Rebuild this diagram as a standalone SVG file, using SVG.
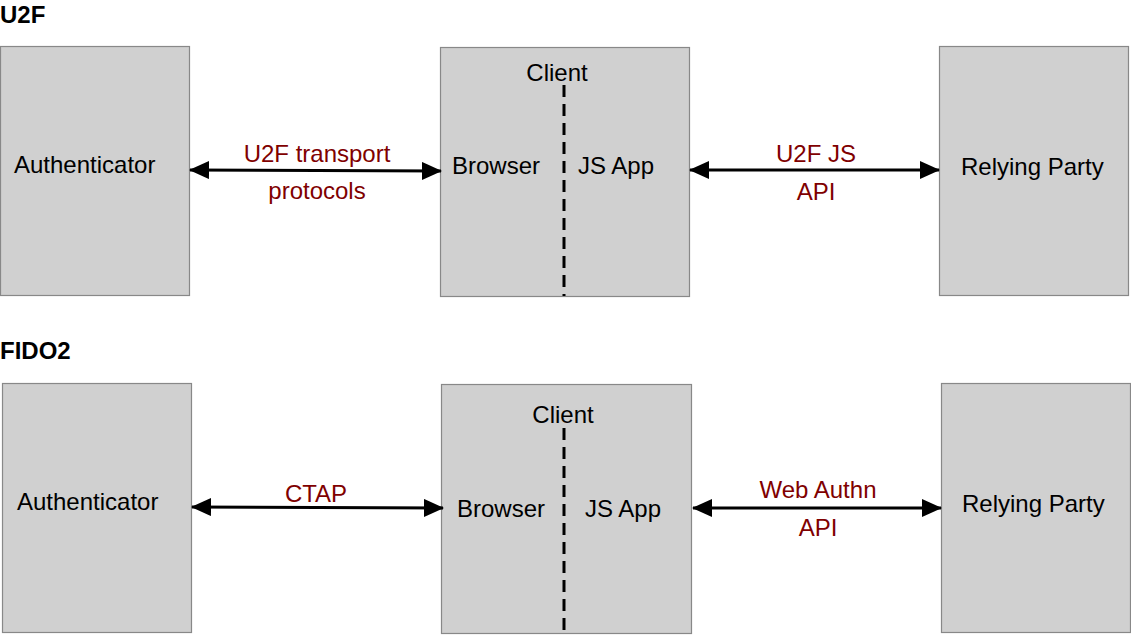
<svg xmlns="http://www.w3.org/2000/svg" width="1131" height="635" viewBox="0 0 1131 635">
<defs>
<style>
.box{fill:#d0d0d0;stroke:#888888;stroke-width:1.2}
.t{font-family:"Liberation Sans",Arial,sans-serif;font-size:24px;fill:#000}
.title{font-family:"Liberation Sans",Arial,sans-serif;font-size:24px;font-weight:bold;fill:#000}
.lbl{font-family:"Liberation Sans",Arial,sans-serif;font-size:24px;fill:#7f0000;text-anchor:middle}
.conn{stroke:#000;stroke-width:2.8;fill:none;marker-start:url(#ah);marker-end:url(#ah)}
.dash{stroke:#000;stroke-width:3;stroke-dasharray:12 7;fill:none}
</style>
<marker id="ah" viewBox="0 0 20 18" refX="19" refY="9" markerWidth="20" markerHeight="18" markerUnits="userSpaceOnUse" orient="auto-start-reverse">
<path d="M0,0 L20,9 L0,18 Z" fill="#000"/>
</marker>
</defs>
<text class="title" x="0" y="23">U2F</text>
<text class="title" x="0" y="359">FIDO2</text>

<g id="u2f-authenticator">
<rect class="box" x="0.5" y="46.5" width="189" height="249"/>
<text class="t" x="14" y="173">Authenticator</text>
</g>
<g id="u2f-client">
<rect class="box" x="440.5" y="47.5" width="249" height="249"/>
<text class="t" x="557" y="81" text-anchor="middle">Client</text>
<line class="dash" x1="564" y1="85" x2="564" y2="296"/>
<text class="t" x="452" y="174">Browser</text>
<text class="t" x="578" y="174">JS App</text>
</g>
<g id="u2f-rp">
<rect class="box" x="939.5" y="46.5" width="189" height="249"/>
<text class="t" x="961" y="175">Relying Party</text>
</g>

<g id="fido2-authenticator">
<rect class="box" x="2.5" y="383.5" width="189" height="249"/>
<text class="t" x="17" y="510">Authenticator</text>
</g>
<g id="fido2-client">
<rect class="box" x="441.5" y="384.5" width="250" height="249"/>
<text class="t" x="563" y="423" text-anchor="middle">Client</text>
<line class="dash" x1="564" y1="428" x2="564" y2="634"/>
<text class="t" x="457" y="517">Browser</text>
<text class="t" x="585" y="517">JS App</text>
</g>
<g id="fido2-rp">
<rect class="box" x="941.5" y="383.5" width="189" height="249"/>
<text class="t" x="962" y="512">Relying Party</text>
</g>

<g id="connectors">
<path class="conn" d="M190,170 L441,171"/>
<path class="conn" d="M690,170 L939,170"/>
<path class="conn" d="M192,507 L443,508"/>
<path class="conn" d="M693,508 L941,508"/>
<text class="lbl" x="317" y="162">U2F transport</text>
<text class="lbl" x="317" y="199">protocols</text>
<text class="lbl" x="816" y="162">U2F JS</text>
<text class="lbl" x="816" y="200">API</text>
<text class="lbl" x="316" y="502">CTAP</text>
<text class="lbl" x="818" y="498">Web Authn</text>
<text class="lbl" x="818" y="536">API</text>
</g>
</svg>
